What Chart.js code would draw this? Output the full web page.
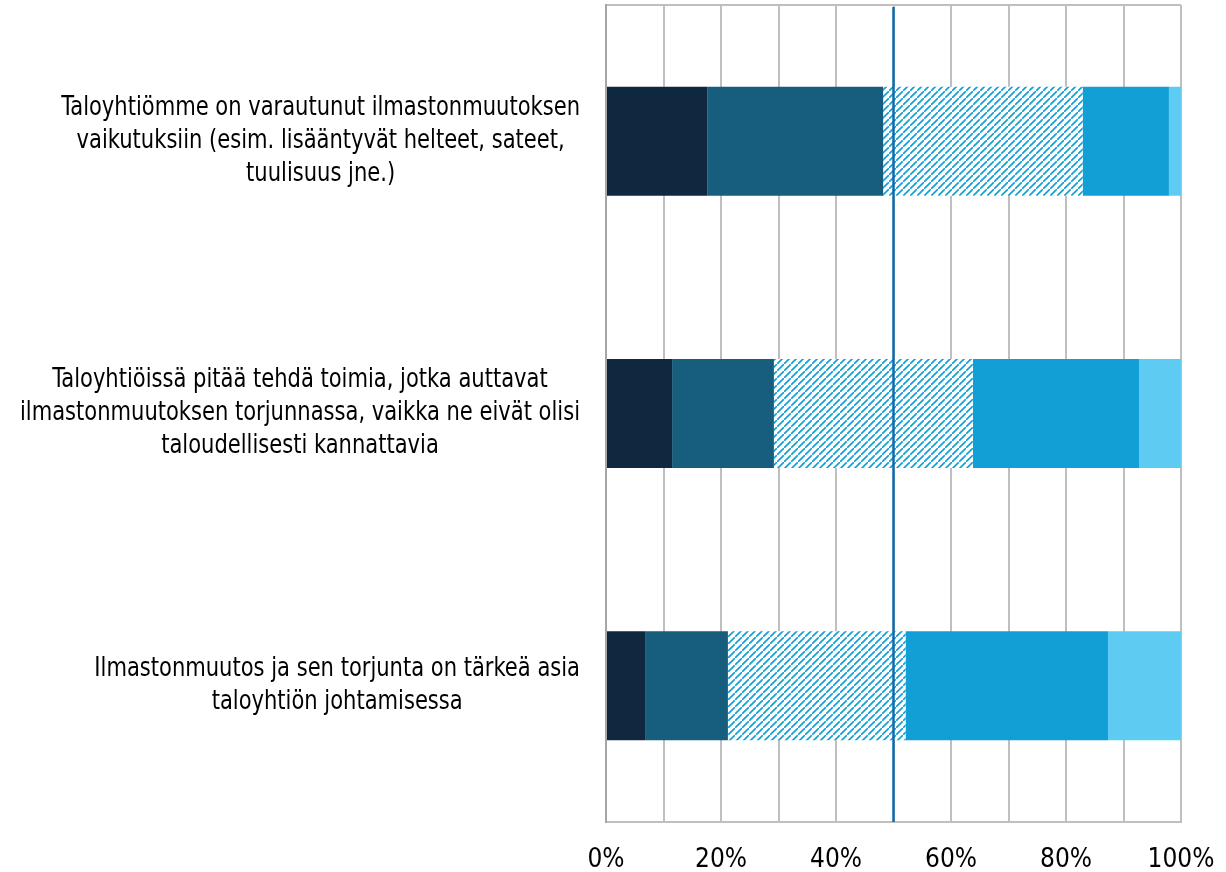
<!DOCTYPE html>
<html lang="fi">
<head>
<meta charset="utf-8">
<title>Ilmastonmuutos taloyhtiöissä</title>
<script src="https://cdn.jsdelivr.net/npm/chart.js@4.4.1/dist/chart.umd.min.js"></script>
<style>
    body { margin: 0; background: #fff; }
    canvas { display: block; }
</style>
</head>
<body>
<canvas id="myGraph" width="1226" height="872"></canvas>
<script>
"use strict";

// väittämät, rivit kuten kuvassa
const categories = [
    ["Taloyhtiömme on varautunut ilmastonmuutoksen", "vaikutuksiin (esim. lisääntyvät helteet, sateet,", "tuulisuus jne.)"],
    ["Taloyhtiöissä pitää tehdä toimia, jotka auttavat", "ilmastonmuutoksen torjunnassa, vaikka ne eivät olisi", "taloudellisesti kannattavia"],
    ["Ilmastonmuutos ja sen torjunta on tärkeä asia", "taloyhtiön johtamisessa"],
];

const seriesNames = ["Täysin eri mieltä", "Jokseenkin eri mieltä", "Ei samaa eikä eri mieltä", "Jokseenkin samaa mieltä", "Täysin samaa mieltä"];

// prosentit, luettu kuvasta
const stronglyDisagree = [17.6, 11.5, 6.8];
const somewhatDisagree = [30.6, 17.7, 14.4];
const neutral = [34.7, 34.6, 30.9];
const somewhatAgree = [15.0, 28.9, 35.2];
const stronglyAgree = [2.1, 7.3, 12.7];

const tickValues = [0, 20, 40, 60, 80, 100];
const refLine = 50;

const fontFamily = "'Liberation Sans Narrow', 'DejaVu Sans Condensed', 'Liberation Sans', sans-serif";
const fontSize = 26;
// tekstit hieman kapeammiksi, kuten alkuperäisessä kapeassa fontissa
const squeeze = 0.9;

Chart.defaults.font.family = fontFamily;
Chart.defaults.font.size = fontSize;
Chart.defaults.color = "#000";

function makeHatch(color) {
    let size = 7;
    let tile = document.createElement("canvas");
    tile.width = size;
    tile.height = size;
    let c = tile.getContext("2d");
    c.fillStyle = "#fff";
    c.fillRect(0, 0, size, size);
    c.strokeStyle = color;
    c.lineWidth = 1.6;
    c.beginPath();
    // "/" suuntainen viiva, reunat jatkuvat seuraavaan ruutuun
    c.moveTo(-1, size + 1);
    c.lineTo(size + 1, -1);
    c.moveTo(-size - 1, 1);
    c.lineTo(1, -size - 1);
    c.moveTo(size - 1, 2 * size + 1);
    c.lineTo(2 * size + 1, size - 1);
    c.stroke();
    return c.createPattern(tile, "repeat");
}

const colors = ["#0f2840", "#165d7e", makeHatch("#119fd6"), "#119fd6", "#5ecbf3"];
const values = [stronglyDisagree, somewhatDisagree, neutral, somewhatAgree, stronglyAgree];

const datasets = [];
for (let i = 0; i < values.length; i++) {
    datasets.push({
        label: seriesNames[i],
        data: values[i],
        backgroundColor: colors[i],
        borderWidth: 0,
        barPercentage: 0.4,
        categoryPercentage: 1,
    });
}

// omat y-akselin tekstit: jokainen lohko oikealle, rivit keskitettyinä
const categoryLabels = {
    id: "categoryLabels",
    afterDraw(chart) {
        const ctx = chart.ctx;
        const yScale = chart.scales.y;
        const rightEdge = chart.chartArea.left - 26;
        const lineHeight = 33;
        ctx.save();
        ctx.font = fontSize + "px " + fontFamily;
        ctx.fillStyle = "#000";
        ctx.textAlign = "center";
        ctx.textBaseline = "middle";
        for (let i = 0; i < categories.length; i++) {
            let lines = categories[i];
            let widest = 0;
            for (let line of lines) {
                widest = Math.max(widest, ctx.measureText(line).width * squeeze);
            }
            let cx = rightEdge - widest / 2;
            let cy = yScale.getPixelForValue(i);
            let startY = cy - ((lines.length - 1) * lineHeight) / 2;
            for (let j = 0; j < lines.length; j++) {
                let w = ctx.measureText(lines[j]).width * squeeze;
                ctx.fillText(lines[j], cx, startY + j * lineHeight, w);
            }
        }
        ctx.restore();
    },
};

const middleLine = {
    id: "middleLine",
    afterDatasetsDraw(chart) {
        const ctx = chart.ctx;
        const x = chart.scales.x.getPixelForValue(refLine);
        ctx.save();
        ctx.strokeStyle = "#0e6bab";
        ctx.lineWidth = 2.5;
        ctx.beginPath();
        ctx.moveTo(x, chart.chartArea.top + 2);
        ctx.lineTo(x, chart.chartArea.bottom);
        ctx.stroke();
        ctx.restore();
    },
};

const config = {
    type: "bar",
    data: {
        labels: categories.map((lines) => lines.join(" ")),
        datasets: datasets,
    },
    options: {
        indexAxis: "y",
        responsive: false,
        animation: false,
        devicePixelRatio: 1,
        layout: {
            padding: { top: 5, right: 45, left: 0, bottom: 0 },
        },
        plugins: {
            legend: { display: false },
            tooltip: { enabled: false },
        },
        scales: {
            x: {
                stacked: true,
                min: 0,
                max: 100,
                afterFit: (scale) => {
                    scale.height = 50;
                    scale.paddingLeft = 0;
                    scale.paddingRight = 0;
                },
                ticks: {
                    stepSize: 10,
                    autoSkip: false,
                    maxRotation: 0,
                    padding: 23,
                    color: "#000",
                    callback: (value) => (tickValues.includes(value) ? value + "%" : ""),
                },
                grid: {
                    color: "#bfbfbf",
                    lineWidth: 2,
                    drawTicks: false,
                },
                border: { color: "#bfbfbf", width: 2 },
            },
            y: {
                stacked: true,
                afterFit: (scale) => {
                    scale.width = 606;
                },
                ticks: { display: false },
                grid: {
                    color: (ctx) => (ctx.index === 0 ? "#bfbfbf" : "rgba(0,0,0,0)"),
                    lineWidth: 2,
                    drawTicks: false,
                },
                border: { color: "#a6a6a6", width: 2 },
            },
        },
    },
    plugins: [categoryLabels, middleLine],
};

new Chart(document.getElementById("myGraph"), config);
</script>
</body>
</html>
